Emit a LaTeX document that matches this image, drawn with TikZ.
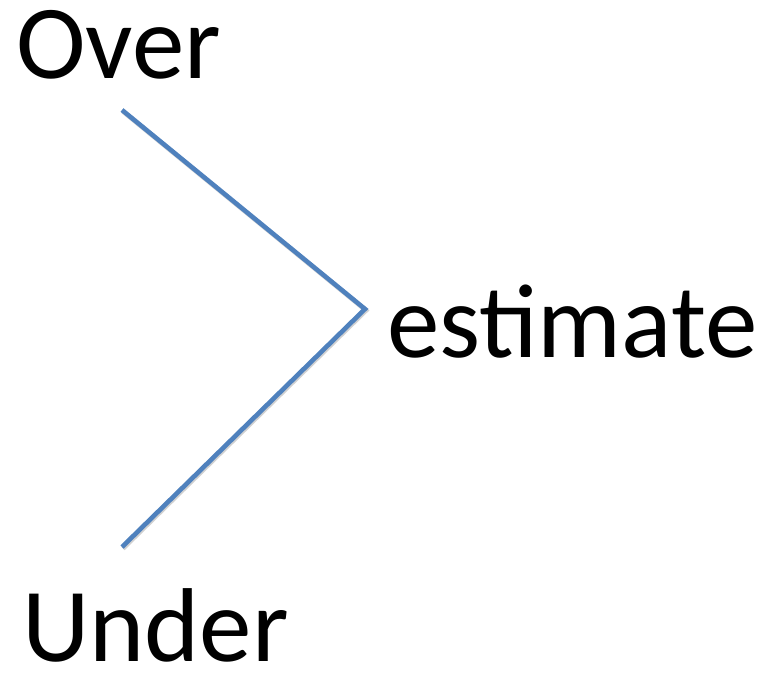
\documentclass[tikz,border=0pt]{standalone}
\usepackage{fontspec}
\setmainfont{Carlito}
\definecolor{lineblue}{RGB}{79,129,189}
\begin{document}
\begin{tikzpicture}[x=1pt,y=-1pt]
  \useasboundingbox (0,0) rectangle (771,672);
  \tikzset{
    word/.style={anchor=base west, inner sep=0pt, text height=68pt, text depth=0pt,
      font=\fontsize{105}{110}\selectfont},
    chevron/.style={draw=lineblue, line width=4.6pt, line join=miter},
    chevshade/.style={draw=black!18, line width=4.6pt, line join=miter}
  }
  \node[word] (over) at (16,78) {Over};
  \node[word] (est) at (387,357) {estimate};
  \node[word] (under) at (22,661) {Under};
  \coordinate (a) at (122,110);
  \coordinate (v) at (365,309);
  \coordinate (b) at (122,547);
  % soft drop shadow under the chevron
  \draw[chevshade, transform canvas={xshift=1pt, yshift=-1.5pt}] (a) -- (v) -- (b);
  \draw[chevron] (a) -- (v) -- (b);
\end{tikzpicture}
\end{document}
